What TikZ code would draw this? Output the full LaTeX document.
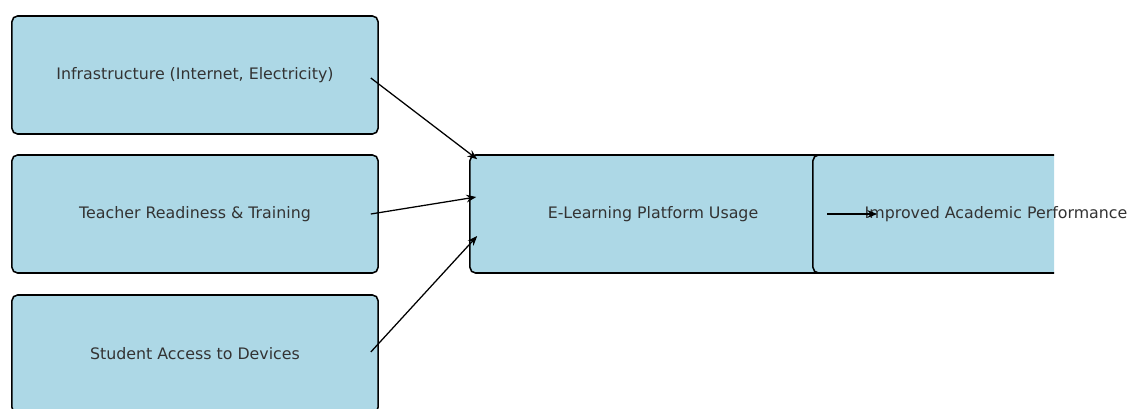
\documentclass[tikz,border=0pt]{standalone}
\usepackage{xcolor}
\usepackage{fontspec}
\setmainfont{DejaVu Sans}
\usetikzlibrary{arrows.meta,calc,positioning}
\definecolor{boxblue}{RGB}{173,216,230}

\begin{document}
\begin{tikzpicture}[x=0.025cm, y=-0.025cm, arrow/.style = {line width=0.9pt,-{Stealth[length=7pt,width=5.5pt]}}]
	\tikzset{factor/.style={draw=black, fill=boxblue, line width=1.1pt, rounded corners=4pt, minimum width=9.15cm, minimum height=2.95cm, inner sep=0pt, text=black!80, font=\fontsize{11.25}{13}\selectfont}}
	\useasboundingbox (0,0) rectangle (1128,408);
	\clip (0,0) rectangle (1128,408);

	\node[factor] (infra) at (195,75) {Infrastructure (Internet, Electricity)};
	\node[factor] (teacher) at (195,214) {Teacher Readiness \& Training};
	\node[factor] (student) at (195,354) {Student Access to Devices};

	\node[factor] (usage) at (653,214) {E-Learning Platform Usage};
	\begin{scope}
		\clip (0,0) rectangle (1054,408);
		\node[factor] (perf) at (996,214) {};
	\end{scope}
	\node[text=black!80, font=\fontsize{11.25}{13}\selectfont, inner sep=0pt] (perftext) at (perf.center) {Improved Academic Performance};

	\draw [arrow] ($(infra.east)+(-8,3)$) -- ($(usage.north west)+(8,5)$);
	\draw [arrow] ($(teacher.east)+(-8,0)$) -- ($(usage.west)+(7,-17)$);
	\draw [arrow] ($(student.east)+(-8,-2)$) -- ($(usage.west)+(8,22)$);
	\draw [arrow] ($(perf.west)+(15,0)$) -- ($(perf.west)+(65,0)$);

\end{tikzpicture}
\end{document}
